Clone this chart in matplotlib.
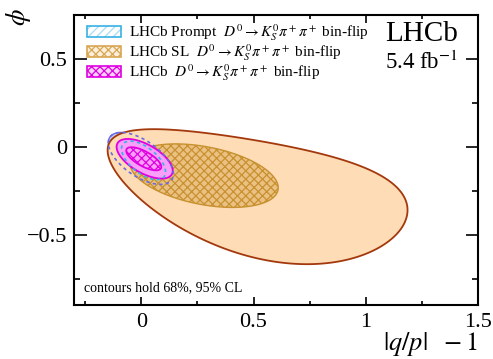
import numpy as np
import matplotlib
matplotlib.use("Agg")
import matplotlib.pyplot as plt
from matplotlib.patches import Patch

plt.rcParams['font.family'] = ['Liberation Serif', 'DejaVu Serif']
plt.rcParams['mathtext.fontset'] = 'stix'
plt.rcParams['hatch.linewidth'] = 0.9

# contour shapes: [x centre, x half-width, y centre, slope, y half-width, bend, taper]
sl_95 = [0.518, 0.668, -0.19, -0.17, 0.335, 0.11, 0.07]
sl_68 = [0.28, 0.33, -0.164, -0.069, 0.167, 0.0, 0.0]
comb_95 = [0.015, 0.125, -0.068, -0.068, 0.090, 0.0, 0.0]
comb_68 = [0.011, 0.078, -0.068, -0.046, 0.047, 0.0, 0.0]
prompt_95 = [-0.002, 0.145, -0.066, -0.089, 0.118, 0.0, 0.0]
prompt_68 = [0.01, 0.098, -0.077, -0.066, 0.088, 0.0, 0.0]

labels = [r'LHCb Prompt  $D^0 \to K^0_S\pi^+\pi^+$ bin-flip',
          r'LHCb SL  $D^0 \to K^0_S\pi^+\pi^+$ bin-flip',
          r'LHCb  $D^0 \to K^0_S\pi^+\pi^+$ bin-flip']


def contour(p, n=500):
    cx, wx, cy, m, s, d, k = p
    t = np.linspace(0, 2 * np.pi, n)
    c, sn = np.cos(t), np.sin(t)
    return cx + wx * c, cy + m * c - d * sn**2 + s * sn * (1 + k * c)


fig = plt.figure(figsize=(4.93, 3.59), dpi=100)
ax = fig.add_axes([0.150, 0.1504, 0.8196, 0.8078])

blue = '#6a6ae6'
cyan = '#36b2e6'
brown = '#a3380c'
peach = '#fddcb6'
gold = '#c8912f'
mag = '#e000e0'

x, y = contour(prompt_95)
ax.fill(x, y, facecolor='#c6cdf8', edgecolor=blue, lw=1.0, zorder=1)
x, y = contour(sl_95)
ax.fill(x, y, facecolor=peach, edgecolor=brown, lw=1.3, zorder=2)
x, y = contour(sl_68)
ax.fill(x, y, facecolor=(0.86, 0.66, 0.32, 0.5), edgecolor=gold, hatch='xxxx', lw=1.0, zorder=3)
x, y = contour(comb_95)
ax.fill(x, y, facecolor='#f99ef9', edgecolor=mag, lw=1.3, zorder=4)
x, y = contour(comb_68)
ax.fill(x, y, facecolor='#f99ef9', edgecolor=mag, hatch='xxxx', lw=1.3, zorder=5)
x, y = contour(prompt_95)
ax.plot(x, y, color=blue, lw=1.2, ls=(0, (2, 2)), zorder=6)
x, y = contour(prompt_68)
ax.plot(x, y, color=cyan, lw=1.2, ls=(0, (2, 2)), zorder=6)

ax.set_xlim(-0.3, 1.5)
ax.set_ylim(-0.9, 0.75)
ax.set_xticks([0, 0.5, 1, 1.5])
ax.set_xticklabels(['0', '0.5', '1', '1.5'])
ax.set_yticks([-0.5, 0, 0.5])
ax.set_yticklabels(['\u22120.5', '0', '0.5'])
ax.set_xticks(np.arange(-0.25, 1.5, 0.25), minor=True)
ax.set_yticks(np.arange(-0.75, 0.75, 0.25), minor=True)
ax.tick_params(axis='both', which='both', direction='in', top=True, right=True,
               labelsize=16, width=1.2)
ax.tick_params(axis='x', which='major', length=6, pad=6)
ax.tick_params(axis='x', which='minor', length=3)
ax.tick_params(axis='y', which='major', length=9, pad=5)
ax.tick_params(axis='y', which='minor', length=4.5)
for sp in ax.spines.values():
    sp.set_linewidth(1.5)

ax.set_xlabel(r'$|q/p|\ \ -1$', fontsize=19, loc='right')
ax.xaxis.set_label_coords(1.0, -0.085)
ax.set_ylabel(r'$\phi$', fontsize=19, loc='top')
ax.yaxis.set_label_coords(-0.101, 1.024)

handles = [(Patch(facecolor='white', edgecolor='#a6dcf4', hatch='////', lw=0),
            Patch(facecolor='none', edgecolor=cyan, lw=1.2)),
           Patch(facecolor='#fbf0dc', edgecolor='#d9a552', hatch='xxxx', lw=1.2),
           Patch(facecolor='#fbd0fb', edgecolor=mag, hatch='xxxx', lw=1.2)]
ax.legend(handles, labels, loc='upper left', bbox_to_anchor=(0.033, 0.975),
          frameon=False, fontsize=11, handlelength=2.2, handleheight=0.7,
          handletextpad=0.5, labelspacing=-0.05, borderpad=0, borderaxespad=0)

ax.text(0.770, 0.910, 'LHCb', transform=ax.transAxes, fontsize=21,
        ha='left', va='baseline')
ax.text(0.770, 0.815, r'5.4 fb$^{-1}$', transform=ax.transAxes, fontsize=16.5,
        ha='left', va='baseline')
ax.text(0.025, 0.06, 'contours hold 68%, 95% CL', transform=ax.transAxes,
        fontsize=10, ha='left', va='center')

fig.savefig('out.png', dpi=100)
